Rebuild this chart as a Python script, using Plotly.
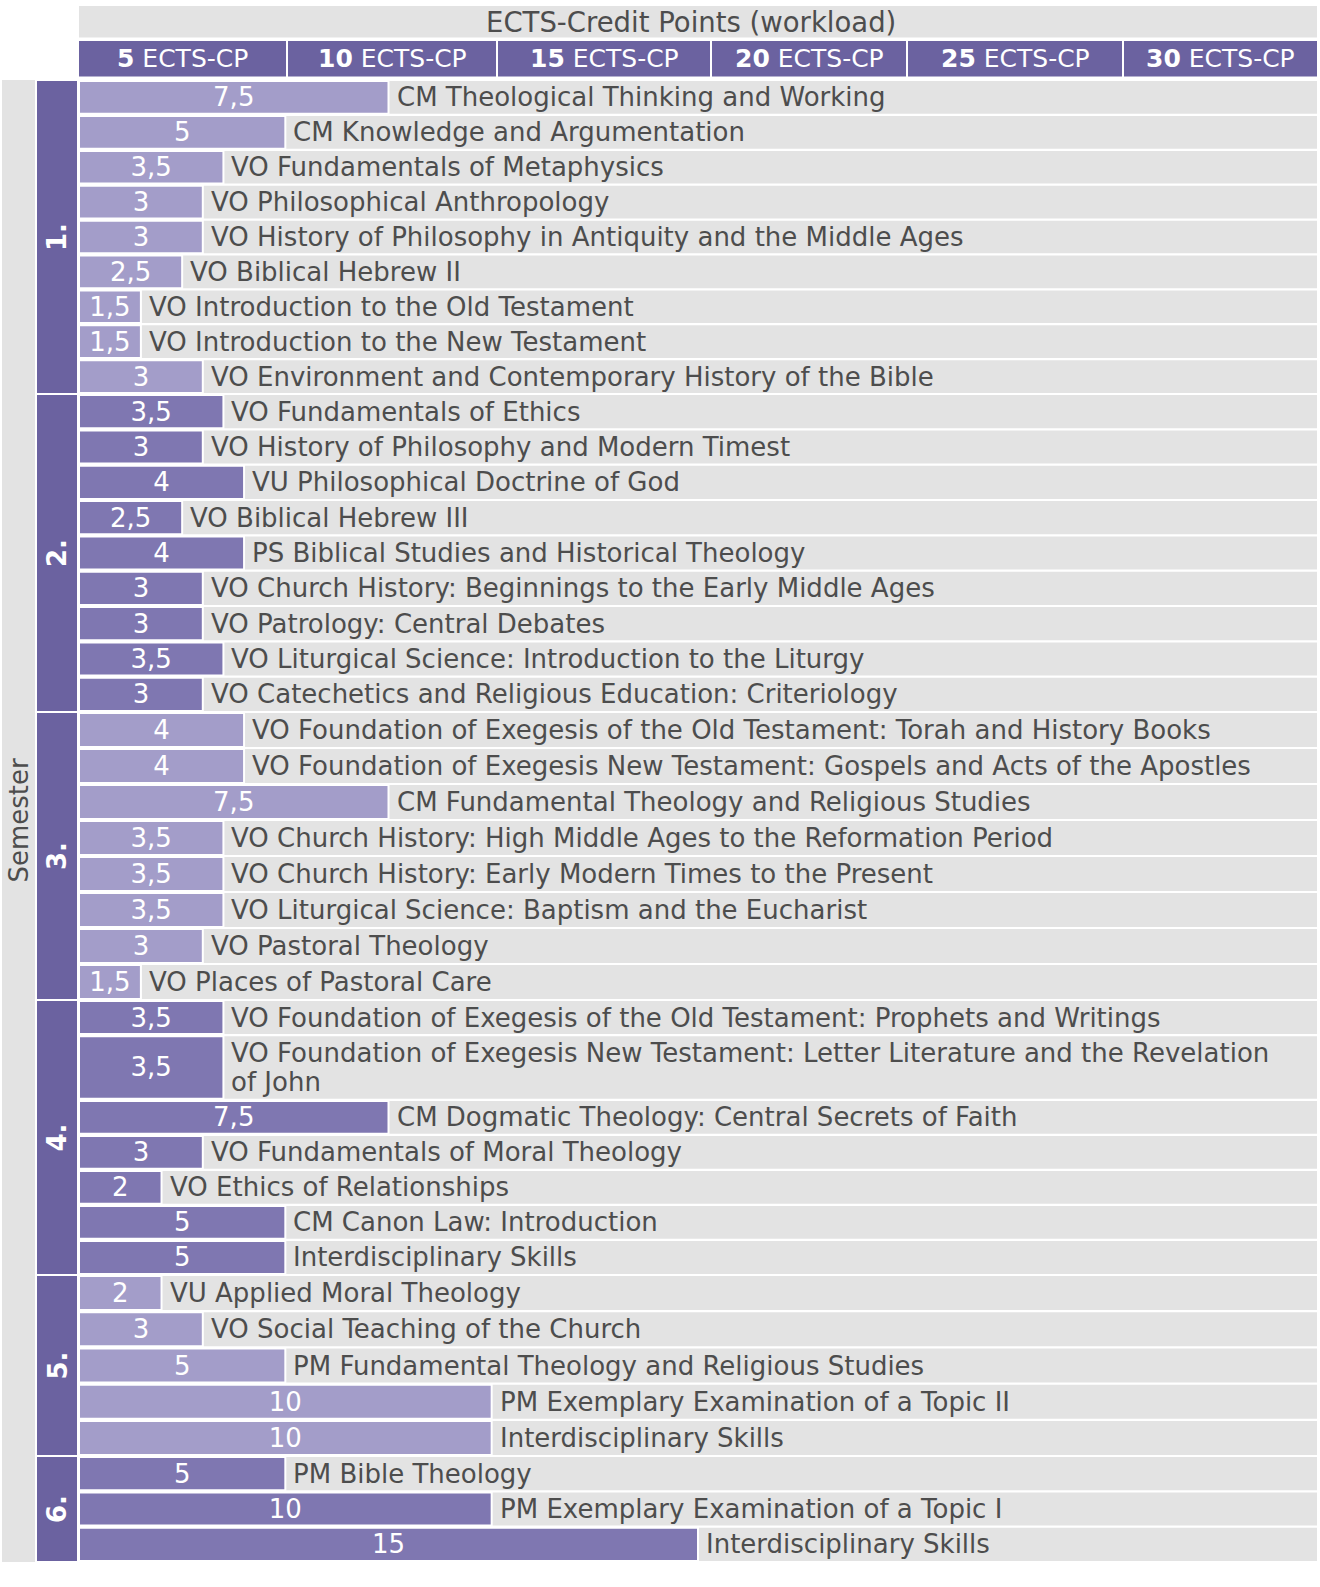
import plotly.graph_objects as go

# ---------------- data ----------------
semesters = ["1.", "2.", "3.", "4.", "5.", "6."]

sem1_courses = ["CM Theological Thinking and Working",
                "CM Knowledge and Argumentation",
                "VO Fundamentals of Metaphysics",
                "VO Philosophical Anthropology",
                "VO History of Philosophy in Antiquity and the Middle Ages",
                "VO Biblical Hebrew II",
                "VO Introduction to the Old Testament",
                "VO Introduction to the New Testament",
                "VO Environment and Contemporary History of the Bible"]
sem1_ects = [7.5, 5, 3.5, 3, 3, 2.5, 1.5, 1.5, 3]

sem2_courses = ["VO Fundamentals of Ethics",
                "VO History of Philosophy and Modern Timest",
                "VU Philosophical Doctrine of God",
                "VO Biblical Hebrew III",
                "PS Biblical Studies and Historical Theology",
                "VO Church History: Beginnings to the Early Middle Ages",
                "VO Patrology: Central Debates",
                "VO Liturgical Science: Introduction to the Liturgy",
                "VO Catechetics and Religious Education: Criteriology"]
sem2_ects = [3.5, 3, 4, 2.5, 4, 3, 3, 3.5, 3]

sem3_courses = ["VO Foundation of Exegesis of the Old Testament: Torah and History Books",
                "VO Foundation of Exegesis New Testament: Gospels and Acts of the Apostles",
                "CM Fundamental Theology and Religious Studies",
                "VO Church History: High Middle Ages to the Reformation Period",
                "VO Church History: Early Modern Times to the Present",
                "VO Liturgical Science: Baptism and the Eucharist",
                "VO Pastoral Theology",
                "VO Places of Pastoral Care"]
sem3_ects = [4, 4, 7.5, 3.5, 3.5, 3.5, 3, 1.5]

sem4_courses = ["VO Foundation of Exegesis of the Old Testament: Prophets and Writings",
                "VO Foundation of Exegesis New Testament: Letter Literature and the Revelation<br>of John",
                "CM Dogmatic Theology: Central Secrets of Faith",
                "VO Fundamentals of Moral Theology",
                "VO Ethics of Relationships",
                "CM Canon Law: Introduction",
                "Interdisciplinary Skills"]
sem4_ects = [3.5, 3.5, 7.5, 3, 2, 5, 5]

sem5_courses = ["VU Applied Moral Theology",
                "VO Social Teaching of the Church",
                "PM Fundamental Theology and Religious Studies",
                "PM Exemplary Examination of a Topic II",
                "Interdisciplinary Skills"]
sem5_ects = [2, 3, 5, 10, 10]

sem6_courses = ["PM Bible Theology",
                "PM Exemplary Examination of a Topic I",
                "Interdisciplinary Skills"]
sem6_ects = [5, 10, 15]

header_title = "ECTS-Credit Points (workload)"
header_ticks = [5, 10, 15, 20, 25, 30]

all_courses = [sem1_courses, sem2_courses, sem3_courses, sem4_courses, sem5_courses, sem6_courses]
all_ects = [sem1_ects, sem2_ects, sem3_ects, sem4_ects, sem5_ects, sem6_ects]

# ---------------- layout constants ----------------
W, H = 1320, 1587
ML, MR, MT, MB = 79, 3, 80, 25
PW, PH = W - ML - MR, H - MT - MB
XMAX = 30
sem_px = [314, 318, 288, 275, 181, 106]      # pixel height of each semester block
DOUBLE = 1.85                                # relative height of wrapped row
GAP = 2.2
LINE_H = 29.5                                # line spacing of wrapped label

light = "#a39dc9"
dark = "#7f77b1"
band = "#6b62a0"
grey = "#e3e3e3"
txt = "#4d4d4d"
FONT = "DejaVu Sans"
FS = 26

ys, hs, xs, labels, colors, vtext = [], [], [], [], [], []
sem_bounds = []
top = 0.0
for si, (courses, vals) in enumerate(zip(all_courses, all_ects)):
    rel = [DOUBLE if "<br>" in c else 1.0 for c in courses]
    unit = sem_px[si] / sum(rel)
    start = top
    for c, v, r in zip(courses, vals, rel):
        h = unit * r
        ys.append(top + h / 2)
        hs.append(h - GAP)
        xs.append(v)
        labels.append(c)
        colors.append(light if si % 2 == 0 else dark)
        vtext.append(("%g" % v).replace(".", ","))
        top += h
    sem_bounds.append((start, top))
TOTAL = top

fig = go.Figure()
fig.add_trace(go.Bar(
    y=ys, x=[XMAX] * len(ys), base=0, width=hs, orientation="h",
    marker=dict(color=grey, line=dict(width=0)), hoverinfo="skip", showlegend=False))
fig.add_trace(go.Bar(
    y=ys, x=xs, width=hs, orientation="h",
    marker=dict(color=colors, line=dict(color="white", width=2)),
    text=vtext, textposition="inside", insidetextanchor="middle",
    constraintext="none", textangle=0,
    textfont=dict(family=FONT, size=26, color="white"),
    hoverinfo="skip", showlegend=False))

ann = []
for y, x, lab in zip(ys, xs, labels):
    lines = lab.split("<br>")
    n = len(lines)
    for k, line in enumerate(lines):
        ann.append(dict(x=x, y=y, xref="x", yref="y", text=line, showarrow=False,
                        xanchor="left", yanchor="middle", xshift=6,
                        yshift=((n - 1) / 2 - k) * LINE_H,
                        font=dict(family=FONT, size=FS, color=txt)))

def px_x(p):
    return (p - ML) / PW

def px_y(p):
    return (MT + PH - p) / PH

shapes = []
# header title box
shapes.append(dict(type="rect", xref="paper", yref="paper", x0=px_x(79), x1=px_x(1317),
                   y0=px_y(37.5), y1=px_y(6), fillcolor=grey, line=dict(width=0), layer="below"))
ann.append(dict(x=px_x(691), y=px_y(22), xref="paper", yref="paper", text=header_title,
                showarrow=False, xanchor="center", yanchor="middle",
                font=dict(family=FONT, size=27.5, color=txt)))
# header cells
cell_px = [(79, 286), (288, 496), (498, 710), (712, 906), (908, 1122), (1124, 1317)]
for (a, b), t in zip(cell_px, header_ticks):
    shapes.append(dict(type="rect", xref="paper", yref="paper", x0=px_x(a), x1=px_x(b),
                       y0=px_y(76.5), y1=px_y(41), fillcolor=band, line=dict(width=0)))
    ann.append(dict(x=(px_x(a) + px_x(b)) / 2, y=px_y(59), xref="paper", yref="paper",
                    text="<b>%d</b> ECTS-CP" % t, showarrow=False, xanchor="center",
                    yanchor="middle", font=dict(family=FONT, size=25, color="white")))
# Semester column
shapes.append(dict(type="rect", xref="paper", yref="paper", x0=px_x(2), x1=px_x(35),
                   y0=0, y1=1, fillcolor=grey, line=dict(width=0)))
ann.append(dict(x=(px_x(2) + px_x(35)) / 2, y=px_y(820), xref="paper", yref="paper",
                text="Semester", textangle=-90, showarrow=False, xanchor="center",
                yanchor="middle", font=dict(family=FONT, size=26, color=txt)))
for (s0, s1), name in zip(sem_bounds, semesters):
    shapes.append(dict(type="rect", xref="paper", yref="paper", x0=px_x(37), x1=px_x(77),
                       y0=1 - (s1 - 1) / TOTAL, y1=1 - (s0 + 1) / TOTAL,
                       fillcolor=band, line=dict(width=0)))
    ann.append(dict(x=(px_x(37) + px_x(77)) / 2, y=1 - (s0 + s1) / 2 / TOTAL,
                    xref="paper", yref="paper", text="<b>%s</b>" % name, textangle=-90,
                    showarrow=False, xanchor="center", yanchor="middle",
                    font=dict(family=FONT, size=26, color="white")))

fig.update_layout(
    width=W, height=H, margin=dict(l=ML, r=MR, t=MT, b=MB),
    paper_bgcolor="white", plot_bgcolor="white", barmode="overlay",
    xaxis=dict(range=[0, XMAX], showgrid=False, zeroline=False, showticklabels=False,
               fixedrange=True),
    yaxis=dict(range=[TOTAL, 0], showgrid=False, zeroline=False, showticklabels=False,
               fixedrange=True),
    shapes=shapes, annotations=ann, font=dict(family=FONT))

fig.write_html("out.html", config={"displayModeBar": False},
               post_script="document.body.style.margin='0';document.body.style.overflow='hidden';")
